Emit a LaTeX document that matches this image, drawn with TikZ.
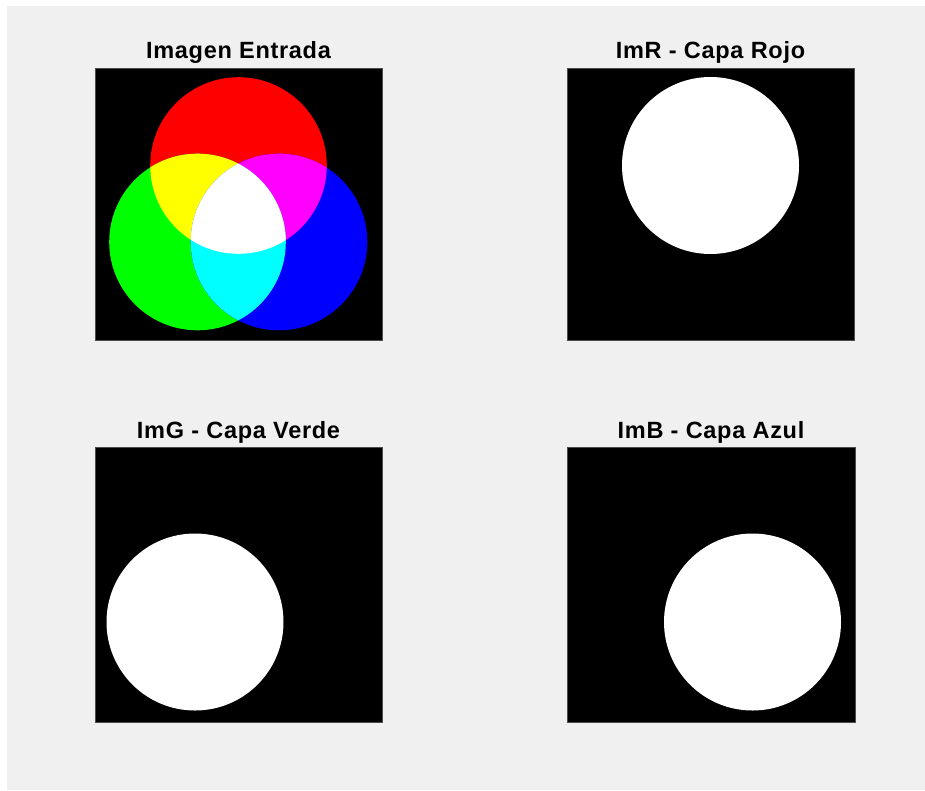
\documentclass[tikz,border=0pt]{standalone}
\usepackage{fontspec}
\setmainfont{Liberation Sans}
\usetikzlibrary{positioning}
\definecolor{figbg}{RGB}{240,240,240}
\definecolor{mixR}{RGB}{255,0,0}
\definecolor{mixG}{RGB}{0,255,0}
\definecolor{mixB}{RGB}{0,0,255}
\definecolor{mixRG}{RGB}{255,255,0}
\definecolor{mixRB}{RGB}{255,0,255}
\definecolor{mixGB}{RGB}{0,255,255}
\tikzset{
  panelbox/.style={
    fill=black,
    draw=black!70,
    line width=0.6pt
  },
  title/.style={
    anchor=base,
    inner sep=0pt,
    text=black,
    font=\bfseries\fontsize{23.5}{26}\selectfont\addfontfeature{LetterSpace=3}
  },
  blob/.style={fill=white}
}
% one axes frame with its title on top
\newcommand{\imgpanel}[4]{
  \draw[panelbox] #1 rectangle #2;
  \node[title] (#3) at #4;
}

\begin{document}
\begin{tikzpicture}[x=1pt, y=-1pt]

  \fill[white] (0,0) rectangle (925,790);
  \fill[figbg] (7,6) rectangle (925,790);
  \useasboundingbox (0,0) rectangle (925,790);

  % input image: additive RGB mix
  \begin{scope}
    \imgpanel{(95,68)}{(382,340)}{tIn}{(238.5,58.5) {Imagen Entrada}}
    \coordinate (cR) at (238.5,165.5);
    \coordinate (cG) at (197.5,242);
    \coordinate (cB) at (279,242);
    \fill[mixR] (cR) circle (88.3);
    \fill[mixG] (cG) circle (88.3);
    \fill[mixB] (cB) circle (88.3);
    \begin{scope}
      \clip (cR) circle (88.3);
      \fill[mixRG] (cG) circle (88.3);
    \end{scope}
    \begin{scope}
      \clip (cR) circle (88.3);
      \fill[mixRB] (cB) circle (88.3);
    \end{scope}
    \begin{scope}
      \clip (cG) circle (88.3);
      \fill[mixGB] (cB) circle (88.3);
    \end{scope}
    \begin{scope}
      \clip (cR) circle (88.3);
      \clip (cG) circle (88.3);
      \fill[white] (cB) circle (88.3);
    \end{scope}
  \end{scope}

  % red layer
  \begin{scope}
    \imgpanel{(567,68)}{(854,340)}{tR}{(710.5,58.5) {ImR - Capa Rojo}}
    \coordinate (mR) at (710.5,165.5);
    \fill[blob] (mR) circle (88.5);
  \end{scope}

  % green layer
  \begin{scope}
    \imgpanel{(95,447)}{(382,722)}{tG}{(238.5,438) {ImG - Capa Verde}}
    \coordinate (mG) at (195,622);
    \fill[blob] (mG) circle (88.5);
  \end{scope}

  % blue layer
  \begin{scope}
    \imgpanel{(567,447)}{(855,722)}{tB}{(711,438) {ImB - Capa Azul}}
    \coordinate (mB) at (752.5,622);
    \fill[blob] (mB) circle (88.5);
  \end{scope}

\end{tikzpicture}
\end{document}
